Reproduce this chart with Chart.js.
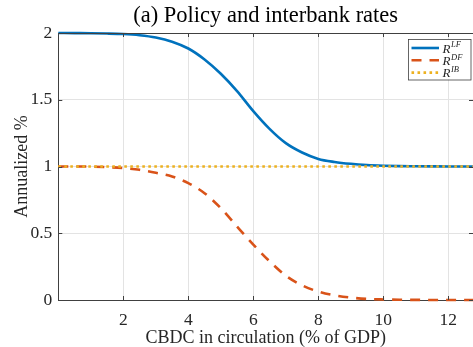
<!DOCTYPE html>
<html>
<head>
<meta charset="utf-8">
<script src="https://cdn.jsdelivr.net/npm/chart.js@4/dist/chart.umd.min.js"></script>
<style>
  html, body { margin: 0; padding: 0; background: #fff; }
  #wrap { width: 473px; height: 347px; }
</style>
</head>
<body>
<div id="wrap"><canvas id="c" width="473" height="347"></canvas></div>
<script>
// CBDC in circulation (% of GDP)
const cbdc = [0, 0.5, 1, 1.5, 2, 2.5, 3, 3.5, 4, 4.5, 5, 5.5, 6, 6.5, 7, 7.5, 8, 8.5, 9, 9.5, 10, 10.5, 11, 11.5, 12, 12.5, 12.76];
// Lending facility rate
const rateLF = [2.000, 1.999, 1.998, 1.996, 1.992, 1.983, 1.966, 1.935, 1.884, 1.802, 1.695, 1.565, 1.415, 1.282, 1.175, 1.105, 1.057, 1.034, 1.020, 1.011, 1.006, 1.003, 1.002, 1.001, 1.000, 1.000, 1.000];
// Deposit facility rate
const rateDF = [1.000, 1.000, 0.999, 0.995, 0.988, 0.975, 0.953, 0.925, 0.875, 0.800, 0.688, 0.550, 0.415, 0.290, 0.182, 0.110, 0.063, 0.035, 0.018, 0.008, 0.004, 0.002, 0.001, 0.000, 0.000, 0.000, 0.000];
// Interbank rate
const rateIB = [1, 1, 1, 1, 1, 1, 1, 1, 1, 1, 1, 1, 1, 1, 1, 1, 1, 1, 1, 1, 1, 1, 1, 1, 1, 1, 1];

const xTicks = [2, 4, 6, 8, 10, 12];
const yTicks = [0, 0.5, 1, 1.5, 2];

const SERIF = '"Liberation Serif", "DejaVu Serif", serif';
const AXIS = '#404040';
const TEXT = '#262626';

const toPoints = ys => cbdc.map((x, i) => ({ x: x, y: ys[i] }));

// Box around the axes with inward-pointing tick marks on all four sides
const frameTicks = {
  id: 'frameTicks',
  afterDatasetsDraw(chart) {
    const { ctx, chartArea: a, scales: { x, y } } = chart;
    const len = 4;
    ctx.save();
    ctx.strokeStyle = AXIS;
    ctx.lineWidth = 1;
    ctx.beginPath();
    ctx.moveTo(a.left, a.top + 0.5);
    ctx.lineTo(a.right, a.top + 0.5);
    x.ticks.forEach(t => {
      const px = Math.round(x.getPixelForValue(t.value)) + 0.5;
      ctx.moveTo(px, a.bottom);
      ctx.lineTo(px, a.bottom - len);
      ctx.moveTo(px, a.top);
      ctx.lineTo(px, a.top + len);
    });
    y.ticks.forEach(t => {
      const py = Math.round(y.getPixelForValue(t.value)) + 0.5;
      ctx.moveTo(a.left, py);
      ctx.lineTo(a.left + len, py);
      ctx.moveTo(a.right, py);
      ctx.lineTo(a.right - len, py);
    });
    ctx.stroke();
    ctx.restore();
  }
};

// Legend box in the upper-right corner, with superscripted labels
const rateLegend = {
  id: 'rateLegend',
  afterDatasetsDraw(chart) {
    const { ctx, chartArea: a } = chart;
    const w = 62.5, h = 40.5;
    const bx = a.right - 2.5 - w, by = a.top + 6;
    ctx.save();
    ctx.fillStyle = '#fff';
    ctx.fillRect(bx, by, w, h);
    ctx.strokeStyle = AXIS;
    ctx.lineWidth = 0.8;
    ctx.strokeRect(bx + 0.5, by + 0.5, w, h);
    chart.data.datasets.forEach((ds, i) => {
      const ry = by + 9 + i * 12.3;
      ctx.beginPath();
      ctx.strokeStyle = ds.borderColor;
      ctx.lineWidth = ds.borderWidth;
      ctx.setLineDash(ds.borderDash || []);
      ctx.moveTo(bx + 3.5, ry);
      ctx.lineTo(bx + 31, ry);
      ctx.stroke();
      ctx.setLineDash([]);
      ctx.fillStyle = TEXT;
      ctx.textBaseline = 'alphabetic';
      ctx.font = 'italic 13px ' + SERIF;
      const tx = bx + 34.5;
      ctx.fillText('R', tx, ry + 4.5);
      const rw = ctx.measureText('R').width;
      ctx.font = 'italic 8.5px ' + SERIF;
      ctx.fillText(ds.supLabel, tx + rw + 0.6, ry - 0.8);
    });
    ctx.restore();
  }
};

new Chart(document.getElementById('c'), {
  type: 'line',
  data: {
    datasets: [
      { label: 'R^LF', supLabel: 'LF', data: toPoints(rateLF), borderColor: '#0072BD', borderWidth: 2.6, order: 3 },
      { label: 'R^DF', supLabel: 'DF', data: toPoints(rateDF), borderColor: '#D95319', borderWidth: 2.6, borderDash: [10, 8], order: 2 },
      { label: 'R^IB', supLabel: 'IB', data: toPoints(rateIB), borderColor: '#EDB120', borderWidth: 2.6, borderDash: [2.6, 3.4], order: 1 }
    ]
  },
  options: {
    responsive: false,
    animation: false,
    devicePixelRatio: 1,
    layout: { padding: { left: 0, right: 0, top: 0, bottom: 0 } },
    elements: {
      point: { radius: 0 },
      line: { cubicInterpolationMode: 'monotone', fill: false, borderCapStyle: 'butt' }
    },
    datasets: { line: { clip: 4 } },
    plugins: {
      legend: { display: false },
      tooltip: { enabled: false },
      title: {
        display: true,
        fullSize: false,
        text: '(a) Policy and interbank rates',
        color: '#000',
        font: { family: SERIF, size: 22.5, weight: 'normal', lineHeight: 1.2 },
        padding: { top: 3, bottom: 3 }
      }
    },
    scales: {
      x: {
        type: 'linear',
        min: 0,
        max: 12.76,
        afterBuildTicks: s => { s.ticks = xTicks.map(v => ({ value: v })); },
        afterFit: s => { s.height = 47; },
        grid: { color: '#e3e3e3', lineWidth: 1, drawTicks: false },
        border: { color: AXIS, width: 1 },
        ticks: { color: TEXT, font: { family: SERIF, size: 17.5 }, padding: 10, maxRotation: 0 },
        title: { display: true, text: 'CBDC in circulation (% of GDP)', color: TEXT, font: { family: SERIF, size: 18, lineHeight: 1.0 }, padding: { top: 0, bottom: 0 } }
      },
      y: {
        min: 0,
        max: 2,
        afterBuildTicks: s => { s.ticks = yTicks.map(v => ({ value: v })); },
        afterFit: s => { s.width = 58.3; },
        grid: { color: '#e3e3e3', lineWidth: 1, drawTicks: false },
        border: { color: AXIS, width: 1 },
        ticks: { color: TEXT, font: { family: SERIF, size: 17.5 }, padding: 6, callback: v => String(v) },
        title: { display: true, text: 'Annualized %', color: TEXT, font: { family: SERIF, size: 18 }, padding: { top: 11, bottom: 0 } }
      }
    }
  },
  plugins: [frameTicks, rateLegend]
});
</script>
</body>
</html>
